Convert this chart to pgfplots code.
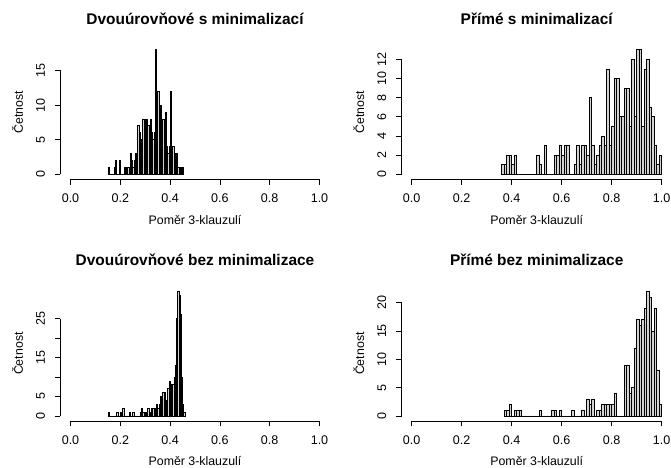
\documentclass[border=0pt]{standalone}
\usepackage{fontspec}
\setmainfont{Liberation Sans}
\usepackage{pgfplots}
\pgfplotsset{compat=1.18}
\definecolor{barfill}{RGB}{211,211,211}

% R-style histogram panel: detached axis lines, outside ticks
\pgfplotsset{
  rhist/.style={
    scale only axis, clip=false,
    xmin=0, xmax=1, ymin=0,
    axis x line=bottom, axis y line=left,
    axis line style={-, line width=0.6bp},
    axis x line shift=5bp, axis y line shift=10bp,
    tick align=outside, major tick length=5.5bp,
    tick style={line width=0.6bp, black},
    xtick={0,0.2,0.4,0.6,0.8,1},
    xticklabels={0.0,0.2,0.4,0.6,0.8,1.0},
    /pgf/number format/assume math mode=true,
    ticklabel style={font=\fontsize{12.6}{15}\selectfont},
    xticklabel style={anchor=base, yshift=-18bp},
    yticklabel style={xshift=-10bp, rotate=90, anchor=base},
    label style={font=\fontsize{12.4}{14.9}\selectfont},
    xlabel={Poměr 3-klauzulí}, ylabel={Četnost},
    title style={font=\fontsize{15.5}{18.6}\selectfont\bfseries, anchor=base},
  },
  hbar/.style={ybar interval, fill=barfill, draw=black, line width=0.6bp},
}

\begin{document}
\begin{tikzpicture}
\useasboundingbox (0,0) rectangle (671bp,468bp);

% top left
\begin{axis}[rhist, at={(70.5bp,293.8bp)}, anchor=south west,
  width=249bp, height=103.75bp, ymax=15, ytick={0,5,10,15},
  title={Dvouúrovňové s minimalizací},
  title style={at={(axis description cs:0.5,1.388)}},
  xlabel style={at={(axis description cs:0.5,-0.481)}, anchor=base},
  ylabel style={at={(axis description cs:-0.191,0.6)}, anchor=base}]
\addplot[hbar] coordinates {
(0.150,1) (0.155,0) (0.160,0) (0.165,0) (0.170,0) (0.175,1) (0.180,2) (0.185,0)
(0.190,0) (0.195,2) (0.200,0) (0.205,0) (0.210,0) (0.215,1) (0.220,1) (0.225,1)
(0.230,1) (0.235,0) (0.240,3) (0.245,2) (0.250,1) (0.255,2) (0.260,3) (0.265,3)
(0.270,7) (0.275,6) (0.280,3) (0.285,5) (0.290,8) (0.295,6) (0.300,8) (0.305,8)
(0.310,7) (0.315,6) (0.320,8) (0.325,6) (0.330,5) (0.335,6) (0.340,18) (0.345,6)
(0.350,12) (0.355,10) (0.360,10) (0.365,7) (0.370,8) (0.375,7) (0.380,9) (0.385,4)
(0.390,3) (0.395,4) (0.400,12) (0.405,4) (0.410,4) (0.415,2) (0.420,3) (0.425,3)
(0.430,1) (0.435,1) (0.440,0) (0.445,1) (0.450,1) (0.455,0)};
\end{axis}

% top right
\begin{axis}[rhist, at={(411.7bp,293.8bp)}, anchor=south west,
  width=250bp, height=114.92bp, ymax=12, ytick={0,2,4,6,8,10,12},
  title={Přímé s minimalizací},
  title style={at={(axis description cs:0.5,1.253)}},
  xlabel style={at={(axis description cs:0.5,-0.4342)}, anchor=base},
  ylabel style={at={(axis description cs:-0.1904,0.5417)}, anchor=base}]
\addplot[hbar] coordinates {
(0.36,1) (0.37,1) (0.38,2) (0.39,2) (0.40,1) (0.41,2) (0.42,0) (0.43,0)
(0.44,0) (0.45,0) (0.46,0) (0.47,0) (0.48,0) (0.49,0) (0.50,2) (0.51,1)
(0.52,0) (0.53,3) (0.54,0) (0.55,0) (0.56,0) (0.57,2) (0.58,2) (0.59,3)
(0.60,2) (0.61,3) (0.62,3) (0.63,0) (0.64,0) (0.65,1) (0.66,3) (0.67,1)
(0.68,3) (0.69,3) (0.70,2) (0.71,8) (0.72,3) (0.73,1) (0.74,2) (0.75,3)
(0.76,4) (0.77,3) (0.78,11) (0.79,3) (0.80,5) (0.81,10) (0.82,10) (0.83,6)
(0.84,6) (0.85,9) (0.86,9) (0.87,5) (0.88,12) (0.89,6) (0.90,13) (0.91,13)
(0.92,5) (0.93,11) (0.94,12) (0.95,7) (0.96,6) (0.97,3) (0.98,1) (0.99,2)
(1.00,0)};
\end{axis}

% bottom left
\begin{axis}[rhist, at={(70.5bp,52.1bp)}, anchor=south west,
  width=249bp, height=97.27bp, ymax=25, ytick={0,5,10,15,20,25},
  yticklabels={0,5,,15,,25},
  title={Dvouúrovňové bez minimalizace},
  title style={at={(axis description cs:0.5,1.4804)}},
  xlabel style={at={(axis description cs:0.5,-0.513)}, anchor=base},
  ylabel style={at={(axis description cs:-0.191,0.64)}, anchor=base}]
\addplot[hbar] coordinates {
(0.150,1) (0.155,0) (0.160,0) (0.165,0) (0.170,0) (0.175,0) (0.180,0) (0.185,1)
(0.190,0) (0.195,0) (0.200,1) (0.205,0) (0.210,2) (0.215,0) (0.220,0) (0.225,0)
(0.230,0) (0.235,1) (0.240,0) (0.245,0) (0.250,1) (0.255,0) (0.260,0) (0.265,0)
(0.270,0) (0.275,0) (0.280,1) (0.285,2) (0.290,1) (0.295,1) (0.300,1) (0.305,0)
(0.310,2) (0.315,1) (0.320,1) (0.325,2) (0.330,2) (0.335,1) (0.340,2) (0.345,3)
(0.350,2) (0.355,3) (0.360,5) (0.365,3) (0.370,6) (0.375,6) (0.380,3) (0.385,4)
(0.390,7) (0.395,9) (0.400,8) (0.405,6) (0.410,8) (0.415,10) (0.420,13) (0.425,25)
(0.430,32) (0.435,31) (0.440,26) (0.445,10) (0.450,3) (0.455,1) (0.460,0)};
\end{axis}

% bottom right
\begin{axis}[rhist, at={(411.7bp,52.1bp)}, anchor=south west,
  width=250bp, height=113.18bp, ymax=20, ytick={0,5,10,15,20},
  title={Přímé bez minimalizace},
  title style={at={(axis description cs:0.5,1.2723)}},
  xlabel style={at={(axis description cs:0.5,-0.4409)}, anchor=base},
  ylabel style={at={(axis description cs:-0.1904,0.55)}, anchor=base}]
\addplot[hbar] coordinates {
(0.37,1) (0.38,1) (0.39,2) (0.40,0) (0.41,1) (0.42,1) (0.43,1) (0.44,0)
(0.45,0) (0.46,0) (0.47,0) (0.48,0) (0.49,0) (0.50,0) (0.51,1) (0.52,0)
(0.53,0) (0.54,0) (0.55,0) (0.56,1) (0.57,1) (0.58,0) (0.59,1) (0.60,0)
(0.61,0) (0.62,0) (0.63,0) (0.64,1) (0.65,0) (0.66,0) (0.67,0) (0.68,1)
(0.69,0) (0.70,3) (0.71,2) (0.72,3) (0.73,0) (0.74,1) (0.75,1) (0.76,2)
(0.77,2) (0.78,2) (0.79,2) (0.80,2) (0.81,4) (0.82,0) (0.83,0) (0.84,0)
(0.85,9) (0.86,9) (0.87,4) (0.88,5) (0.89,12) (0.90,17) (0.91,16) (0.92,17)
(0.93,19) (0.94,22) (0.95,21) (0.96,15) (0.97,19) (0.98,8) (0.99,2) (1.00,0)};
\end{axis}
\end{tikzpicture}
\end{document}
